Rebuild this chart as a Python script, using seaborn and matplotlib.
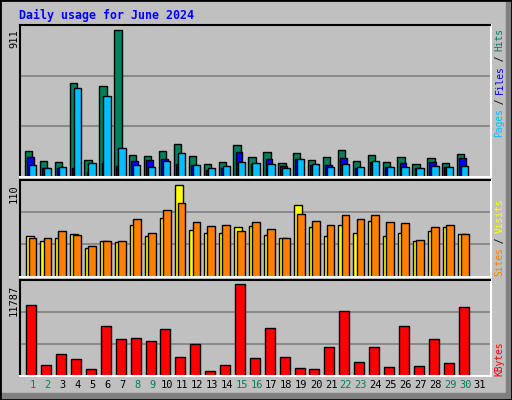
import numpy as np
import matplotlib
matplotlib.use("Agg")
import matplotlib.pyplot as plt
import seaborn as sns
from matplotlib.patches import Rectangle

days = np.arange(1, 32)
hits = [163, 101, 95, 583, 107, 564, 911, 138, 132, 163, 206, 132, 82, 95, 200, 126,
        157, 89, 150, 107, 126, 169, 101, 138, 95, 126, 82, 119, 89, 144, 0]
files = [126, 56, 58, 58, 33, 89, 70, 101, 107, 113, 82, 76, 45, 58, 157, 82,
         113, 70, 113, 76, 76, 119, 58, 95, 64, 89, 58, 95, 64, 119, 0]
pages = [76, 58, 64, 552, 89, 503, 181, 76, 64, 101, 150, 76, 58, 70, 95, 89,
         82, 58, 113, 82, 64, 82, 64, 101, 64, 64, 58, 70, 64, 70, 0]
visits = [49, 43, 45.5, 51.4, 33.5, 43, 40.7, 62, 49, 69.4, 110, 56, 52.6, 52.6, 58.6, 59.8,
          50.2, 46.6, 86, 58.6, 49, 62, 52.6, 65.8, 49, 52.6, 41.9, 55, 58.6, 51.4, 0]
sites = [46.6, 45.5, 55, 50.2, 37, 43, 43, 68.2, 52.6, 80, 87.3, 64.6, 59.8, 61, 55, 64.6,
         56.2, 46.6, 75.3, 65.8, 61, 74, 68.2, 74, 64.6, 63.4, 44.2, 58.6, 62, 51.4, 0]
kbytes = [9077, 1334, 2753, 2108, 817, 6367, 4689, 4818, 4431, 5980, 2366, 4044, 559, 1334, 11787, 2237,
          6109, 2366, 946, 817, 3657, 8303, 1721, 3657, 1075, 6367, 1205, 4689, 1592, 8819, 0]
weekend_days = [1, 2, 8, 9, 15, 16, 22, 23, 29, 30]

C_HITS, C_FILES, C_PAGES = "#00805c", "#0000ff", "#00c0ff"
C_VISITS, C_SITES, C_KB = "#ffff00", "#ff8000", "#ff0000"
BG = "#c0c0c0"
MONO = "DejaVu Sans Mono"

sns.set_style("white")
plt.rcParams["font.family"] = [MONO]

W, H = 512, 400
fig = plt.figure(figsize=(W / 100, H / 100), dpi=100, facecolor=BG)


def px_axes(x0, y0, x1, y1):
    return fig.add_axes([x0 / W, 1 - y1 / H, (x1 - x0) / W, (y1 - y0) / H])


ax_top = px_axes(20, 25, 490.5, 177)
ax_mid = px_axes(20, 180, 490.5, 276.5)
ax_bot = px_axes(20, 280, 490.5, 375.7)

panels = [(ax_top, 911, 147.4 / 152), (ax_mid, 110, 92 / 96.5), (ax_bot, 11787, 91.4 / 95.7)]
for ax, vmax, frac in panels:
    ax.set_facecolor(BG)
    ax.set_xlim(0.13, 31.7)
    ax.set_ylim(0, vmax / frac)
    for f in (1 / 3, 2 / 3):
        ax.axhline(vmax / frac * f, color="#808080", lw=1.2, zorder=0)
    ax.set_xticks([])
    ax.set_yticks([])
    for s in ("left", "top"):
        ax.spines[s].set_color("black")
    for s in ("right", "bottom"):
        ax.spines[s].set_color("white")
    for s in ax.spines.values():
        s.set_linewidth(1.5)
    ax.text(-0.013, vmax, str(vmax), transform=ax.get_yaxis_transform(), rotation=90,
            ha="center", va="top", fontsize=7.5, color="black")

bar_kw = dict(edgecolor="black", linewidth=1, align="center")
ax_top.bar(days - 0.30, hits, width=0.49, color=C_HITS, **bar_kw)
ax_top.bar(days - 0.17, files, width=0.45, color=C_FILES, **bar_kw)
ax_top.bar(days - 0.03, pages, width=0.49, color=C_PAGES, **bar_kw)
ax_mid.bar(days - 0.23, visits, width=0.54, color=C_VISITS, **bar_kw)
ax_mid.bar(days - 0.03, sites, width=0.52, color=C_SITES, **bar_kw)
ax_bot.bar(days - 0.11, kbytes, width=0.67, color=C_KB, **bar_kw)

# day labels
ax_bot.set_xticks(days)
ax_bot.set_xticklabels([str(d) for d in days], fontsize=7.5)
ax_bot.tick_params(axis="x", length=0, pad=3)
for lbl, d in zip(ax_bot.get_xticklabels(), days):
    lbl.set_color(C_HITS if d in weekend_days else "black")

# title
fig.text(19 / W, 1 - 15 / H, "Daily usage for June 2024", color="#0000ff", fontsize=8.4,
         fontweight="bold", ha="left", va="center")


def right_label(parts, y_bottom, x=499.5, step=5.4):
    pos = 0
    for txt, col in parts:
        fig.text(x / W, 1 - (y_bottom - pos * step) / H, txt, color=col, rotation=90,
                 fontsize=6.9, ha="center", va="bottom")
        pos += len(txt)


right_label([("Pages", C_PAGES), (" / ", "black"), ("Files", C_FILES), (" / ", "black"), ("Hits", C_HITS)], 137)
right_label([("Sites", C_SITES), (" / ", "black"), ("Visits", C_VISITS)], 276)
right_label([("KBytes", C_KB)], 376)

# 3D-ish frame
fig.patches.append(Rectangle((W - 6, 0), 6, H - 2, transform=None, color="#808080", zorder=-1))
fig.patches.append(Rectangle((0, 2), W, 5, transform=None, color="#808080", zorder=-1))
fig.patches.append(Rectangle((0, 0), W, H, transform=None, fill=False, edgecolor="black", lw=2))

fig.savefig("out.png", dpi=100, facecolor=BG)
